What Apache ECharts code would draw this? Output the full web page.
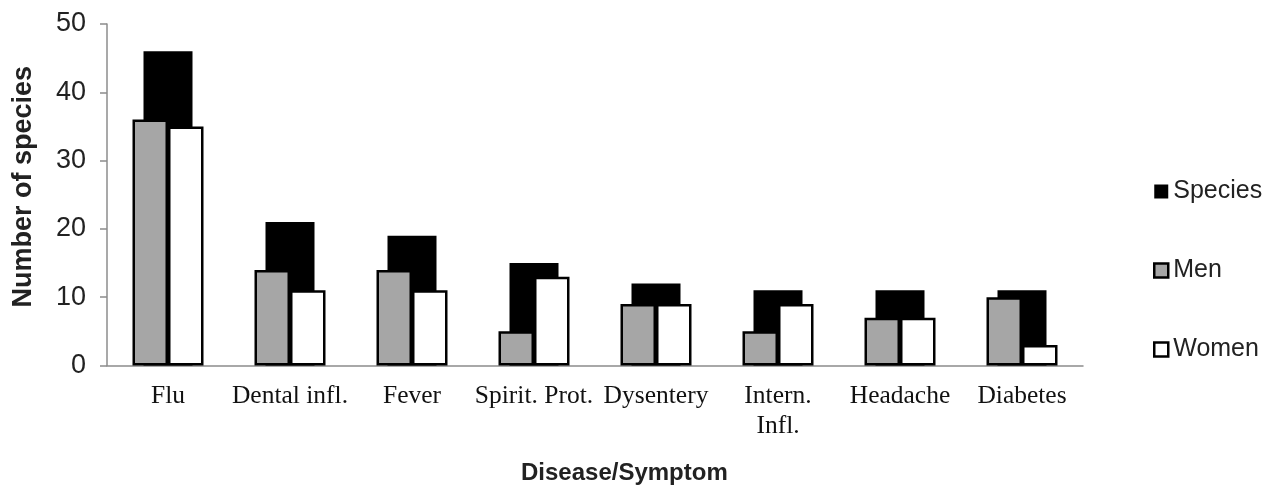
<!DOCTYPE html>
<html>
<head>
<meta charset="utf-8">
<script src="https://cdn.jsdelivr.net/npm/echarts@6/dist/echarts.min.js"></script>
<style>
html,body{margin:0;padding:0;background:#fff;}
#chart{width:1268px;height:485px;}
</style>
</head>
<body>
<div id="chart"></div>
<script>
const categories = ['Flu', 'Dental infl.', 'Fever', 'Spirit. Prot.', 'Dysentery', 'Intern.\nInfl.', 'Headache', 'Diabetes'];
const speciesValues = [46, 21, 19, 15, 12, 11, 11, 11];
const menValues = [36, 14, 14, 5, 9, 5, 7, 10];
const womenValues = [35, 11, 11, 13, 9, 9, 7, 3];
const yTicks = [0, 10, 20, 30, 40, 50];

const sans = '"Liberation Sans", Arial, sans-serif';
const serif = '"Liberation Serif", "Times New Roman", serif';

const chart = echarts.init(document.getElementById('chart'), null, {renderer: 'canvas'});
chart.setOption({
  animation: false,
  backgroundColor: '#ffffff',
  grid: {left: 107, right: 185, top: 24, bottom: 119.5, containLabel: false},
  legend: {
    orient: 'vertical',
    left: 1153,
    top: 179,
    padding: 0,
    icon: 'rect',
    itemWidth: 14,
    itemHeight: 14,
    itemGap: 54,
    textStyle: {fontFamily: sans, fontSize: 25, color: '#222'},
    data: [
      {name: 'Species', itemStyle: {color: '#000', borderWidth: 0}},
      {name: 'Men', itemStyle: {color: '#a6a6a6', borderColor: '#000', borderWidth: 2.5}},
      {name: 'Women', itemStyle: {color: '#fff', borderColor: '#000', borderWidth: 2.5}}
    ]
  },
  xAxis: [
    {
      type: 'category',
      data: categories,
      axisLine: {show: true, lineStyle: {color: '#8c8c8c', width: 1.5}},
      axisTick: {show: false},
      axisLabel: {fontFamily: serif, fontSize: 25.5, color: '#111', margin: 16, lineHeight: 30, interval: 0}
    },
    {
      type: 'category',
      data: categories,
      show: false
    }
  ],
  yAxis: {
    type: 'value',
    min: yTicks[0],
    max: yTicks[yTicks.length - 1],
    interval: 10,
    name: 'Number of species',
    nameLocation: 'middle',
    nameRotate: 90,
    nameGap: 70,
    nameTextStyle: {fontFamily: sans, fontSize: 27, fontWeight: 'bold', color: '#222', padding: [0, 0, 0, 16]},
    axisLine: {show: true, lineStyle: {color: '#8c8c8c', width: 1.5}},
    axisTick: {show: true, length: 7, lineStyle: {color: '#8c8c8c', width: 1.5}},
    splitLine: {show: false},
    axisLabel: {fontFamily: sans, fontSize: 27, color: '#222', margin: 21}
  },
  graphic: [
    {type: 'text', left: 521, top: 461, style: {text: 'Disease/Symptom', font: 'bold 24px ' + sans, fill: '#222'}}
  ],
  series: [
    {
      name: 'Species', type: 'bar', xAxisIndex: 1, data: speciesValues,
      barWidth: 49, z: 1,
      itemStyle: {color: '#000'}
    },
    {
      name: 'Men', type: 'bar', xAxisIndex: 0, data: menValues,
      barWidth: 35.5, barGap: '0%', z: 3,
      itemStyle: {color: '#a6a6a6', borderColor: '#000', borderWidth: 2.5}
    },
    {
      name: 'Women', type: 'bar', xAxisIndex: 0, data: womenValues,
      barWidth: 35.5, barGap: '0%', z: 3,
      itemStyle: {color: '#fff', borderColor: '#000', borderWidth: 2.5}
    }
  ]
});
</script>
</body>
</html>
